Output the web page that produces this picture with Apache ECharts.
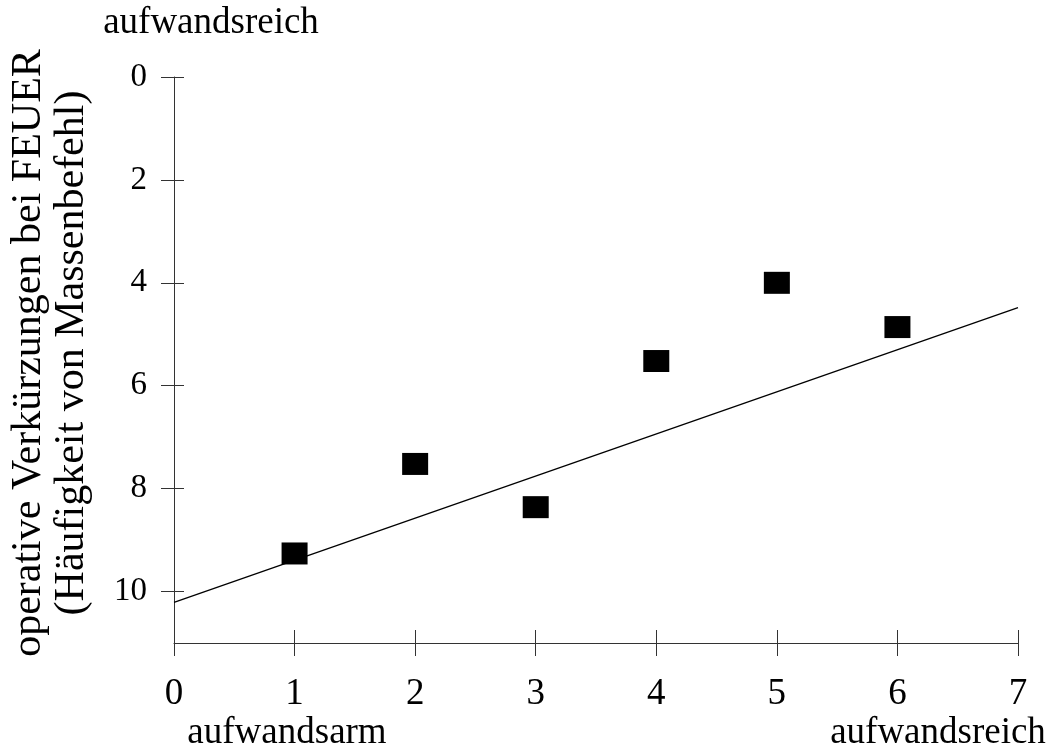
<!DOCTYPE html>
<html>
<head>
<meta charset="utf-8">
<script src="https://cdn.jsdelivr.net/npm/echarts@6/dist/echarts.min.js"></script>
<style>
html,body{margin:0;padding:0;background:#fff;}
#chart{width:1053px;height:753px;}
</style>
</head>
<body>
<div id="chart"></div>
<script>
const xTicks = [0, 1, 2, 3, 4, 5, 6, 7];
const yTicks = [0, 2, 4, 6, 8, 10];
const pointX = [1, 2, 3, 4, 5, 6];
const pointY = [9.26, 7.52, 8.36, 5.52, 4.00, 4.86];
const trendX = [0, 7];
const trendY = [10.21, 4.48];
const yTitle1 = 'operative Verkürzungen bei FEUER';
const yTitle2 = '(Häufigkeit von Massenbefehl)';
const topLabel = 'aufwandsreich';
const lowLabel = 'aufwandsarm';
const highLabel = 'aufwandsreich';

const FONT = '"Liberation Serif", "DejaVu Serif", serif';
const AX = '#333';

const chart = echarts.init(document.getElementById('chart'));

function xAxisDef(withLabels, inside) {
  return {
    type: 'value', min: 0, max: 7, interval: 1, position: 'bottom',
    axisLine: { show: withLabels, onZero: false, lineStyle: { color: AX, width: 1 } },
    axisTick: { show: true, inside: inside, length: 13, customValues: xTicks, lineStyle: { color: AX, width: 1 } },
    axisLabel: { show: withLabels, customValues: xTicks, margin: 33, color: '#000', fontFamily: FONT, fontSize: 37 },
    splitLine: { show: false }
  };
}
function yAxisDef(withLabels, inside) {
  return {
    type: 'value', min: 0, max: 11, interval: 2, inverse: true, position: 'left',
    axisLine: { show: withLabels, onZero: false, lineStyle: { color: AX, width: 1 } },
    axisTick: { show: true, inside: inside, length: inside ? 10 : 13, customValues: yTicks, lineStyle: { color: AX, width: 1 } },
    axisLabel: { show: withLabels, customValues: yTicks, margin: 27, color: '#000', fontFamily: FONT, fontSize: 33 },
    splitLine: { show: false }
  };
}

chart.setOption({
  animation: false,
  backgroundColor: '#fff',
  grid: { left: 174, right: 35, top: 77, bottom: 110, outerBoundsMode: 'none', containLabel: false },
  xAxis: [xAxisDef(true, false), xAxisDef(false, true)],
  yAxis: [yAxisDef(true, false), yAxisDef(false, true)],
  series: [
    {
      type: 'line',
      xAxisIndex: 0, yAxisIndex: 0,
      data: trendX.map((x, i) => [x, trendY[i]]),
      symbol: 'none',
      lineStyle: { color: '#000', width: 1.3 },
      silent: true
    },
    {
      type: 'scatter',
      xAxisIndex: 0, yAxisIndex: 0,
      data: pointX.map((x, i) => [x, pointY[i]]),
      symbol: 'rect',
      symbolSize: [26, 22],
      itemStyle: { color: '#000', opacity: 1 }
    }
  ],
  graphic: [
    { type: 'text', x: 211, y: 23, style: { text: topLabel, font: '37px ' + FONT, fill: '#000', align: 'center', verticalAlign: 'middle' } },
    { type: 'text', x: 287, y: 733, style: { text: lowLabel, font: '37px ' + FONT, fill: '#000', align: 'center', verticalAlign: 'middle' } },
    { type: 'text', x: 938, y: 733, style: { text: highLabel, font: '37px ' + FONT, fill: '#000', align: 'center', verticalAlign: 'middle' } },
    { type: 'text', x: 29, y: 353, rotation: Math.PI / 2, style: { text: yTitle1, font: '42px ' + FONT, fill: '#000', align: 'center', verticalAlign: 'middle' } },
    { type: 'text', x: 72, y: 353, rotation: Math.PI / 2, style: { text: yTitle2, font: '42px ' + FONT, fill: '#000', align: 'center', verticalAlign: 'middle' } }
  ]
});
</script>
</body>
</html>
